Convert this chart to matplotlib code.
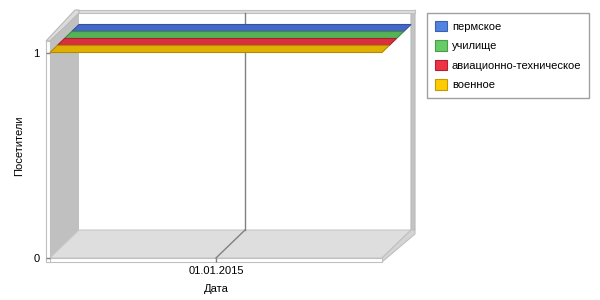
import matplotlib
matplotlib.use("Agg")
import matplotlib.pyplot as plt
from matplotlib.patches import Polygon, Patch
from matplotlib.lines import Line2D
from matplotlib.transforms import IdentityTransform

# data: one date, four series, all equal to 1
dates = ["01.01.2015"]
series_names = ["пермское", "училище", "авиационно-техническое", "военное"]
permskoe = [1]
uchilishche = [1]
aviatsionno = [1]
voennoe = [1]
series_values = [permskoe, uchilishche, aviatsionno, voennoe]

y_ticks = [0, 1]
y_max = 1.056

band_colors = ["#4468c8", "#56b256", "#d8303c", "#e0b000"]
band_edges = ["#35519a", "#3f8a3f", "#a82232", "#b08a00"]
legend_colors = ["#5383e0", "#66cc66", "#ee3344", "#ffcc00"]
legend_edges = ["#3a60b0", "#4a9c4a", "#b02232", "#c09a00"]

DX, DY = 29, 28   # depth of the pseudo-3d box, px
T = 4             # wall thickness, px

plt.rcParams["font.family"] = ["Liberation Sans", "DejaVu Sans"]

fig = plt.figure(figsize=(6, 3), dpi=100)
ax = fig.add_axes([50 / 600, 42 / 300, 332 / 600, 217 / 300])
ax.set_xlim(-0.5, len(dates) - 0.5)
ax.set_ylim(0, y_max)
ax.patch.set_visible(False)
for s in ax.spines.values():
    s.set_visible(False)


def ax_pt(u, v, z=0, dx=0, dy=0):
    x, y = ax.transAxes.transform((u, v))
    return (x + z * DX + dx, y + z * DY + dy)


def data_pt(x, y, z=0):
    px, py = ax.transData.transform((x, y))
    return (px + z * DX, py + z * DY)


def poly(pts, fc, ec="none", lw=0.8, zorder=1):
    ax.add_patch(Polygon(pts, closed=True, facecolor=fc, edgecolor=ec, linewidth=lw,
                         transform=IdentityTransform(), clip_on=False, zorder=zorder))


# walls and floor
poly([ax_pt(0, 0, 0), ax_pt(0, 1, 0), ax_pt(0, 1, 1), ax_pt(0, 0, 1)], "#c0c0c0")
poly([ax_pt(0, 0, 0), ax_pt(1, 0, 0), ax_pt(1, 0, 1), ax_pt(0, 0, 1)], "#dedede", "#c8c8c8")
poly([ax_pt(1, 0, 1), ax_pt(1, 0, 1, T, 0), ax_pt(1, 1, 1, T, 3), ax_pt(1, 1, 1)], "#c4c4c4", "#b8b8b8")
poly([ax_pt(0, 1, 1), ax_pt(1, 1, 1, T, 0), ax_pt(1, 1, 1, T, 3), ax_pt(0, 1, 1, -T, 3)], "#dcdcdc", "#c0c0c0")
poly([ax_pt(0, 1, 0, -T, 0), ax_pt(0, 1, 0), ax_pt(0, 1, 1), ax_pt(0, 1, 1, 0, 3), ax_pt(0, 1, 1, -T, 3)],
     "#dcdcdc", "#b8b8b8")
poly([ax_pt(1, 0, 0, 0, -T), ax_pt(1, 0, 1, T, -T), ax_pt(1, 0, 1, T, 0), ax_pt(1, 0, 1), ax_pt(1, 0, 0)],
     "#d4d4d4", "#c0c0c0")
poly([ax_pt(0, 0, 0, -T, -T), ax_pt(1, 0, 0, 0, -T), ax_pt(1, 0, 0), ax_pt(0, 0, 0, -T, 0)], "white", "#c0c0c0")
poly([ax_pt(0, 0, 0, -T, -T), ax_pt(0, 0, 0, 0, -T), ax_pt(0, 1, 0), ax_pt(0, 1, 0, -T, 0)], "white", "#c0c0c0")

# category gridlines: on floor and back wall
for i in range(len(dates)):
    for a, b in [(data_pt(i, 0, 0), data_pt(i, 0, 1)), (data_pt(i, 0, 1), data_pt(i, y_max, 1))]:
        ax.add_line(Line2D([a[0], b[0]], [a[1], b[1]], color="#808080", lw=1,
                           transform=IdentityTransform(), clip_on=False, zorder=2))

# series ribbons (single point -> spans the whole category axis)
n = len(series_values)
x_left, x_right = ax.get_xlim()
for i, vals in enumerate(series_values):
    slot = n - 1 - i
    z0, z1 = slot / n, (slot + 1) / n
    for v in vals:
        poly([data_pt(x_left, v, z0), data_pt(x_right, v, z0),
              data_pt(x_right, v, z1), data_pt(x_left, v, z1)],
             band_colors[i], band_edges[i], lw=0.8, zorder=3)

ax.set_xticks(range(len(dates)), dates)
ax.set_yticks(y_ticks, [str(t) for t in y_ticks])
ax.tick_params(axis="both", length=3, width=1, color="#808080", labelsize=8, labelcolor="black")
ax.tick_params(axis="y", pad=4.5)
ax.tick_params(axis="x", pad=2.5)

fig.text(216 / 600, 11 / 300, "Дата", ha="center", va="center", fontsize=8)
fig.text(19 / 600, 154 / 300, "Посетители", ha="center", va="center", rotation=90, fontsize=8)

handles = [Patch(facecolor=c, edgecolor=e, linewidth=0.8) for c, e in zip(legend_colors, legend_edges)]
leg = fig.legend(handles, series_names, loc="upper left", bbox_to_anchor=(427 / 600, 287 / 300),
                 borderaxespad=0, fontsize=8, frameon=True, fancybox=False, edgecolor="#a0a0a0",
                 framealpha=1, handlelength=1.1, handleheight=1.1, handletextpad=0.45,
                 labelspacing=0.75, borderpad=0.7)
leg.get_frame().set_linewidth(1.0)

fig.savefig("out.png", dpi=100)
